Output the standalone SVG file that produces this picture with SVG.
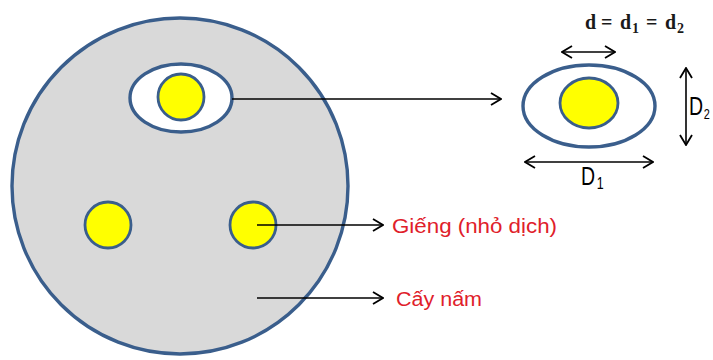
<svg xmlns="http://www.w3.org/2000/svg" width="713" height="360" viewBox="0 0 713 360">
  <style>
    .dish { fill: #D9D9D9; stroke: #3A5E8C; stroke-width: 3.4; }
    .ring { fill: #FFFFFF; stroke: #3A5E8C; stroke-width: 3.4; }
    .well { fill: #FFFF00; stroke: #3A5E8C; stroke-width: 2.8; }
    .line { fill: none; stroke: #000000; stroke-width: 1.6; }
    .lbl { font-family: "Liberation Sans", Arial, sans-serif; font-size: 20px; fill: #E0202A; }
    .dim { font-family: "Liberation Sans", Arial, sans-serif; font-size: 25px; fill: #000000; }
    .eq { font-family: "Liberation Serif", "Times New Roman", serif; font-weight: bold; font-size: 20px; fill: #1A1A1A; }
    .eqsub { font-size: 14px; }
  </style>
  <defs>
    <marker id="head" viewBox="0 0 12 14" refX="11" refY="7" markerWidth="12" markerHeight="14" markerUnits="userSpaceOnUse" orient="auto-start-reverse">
      <path d="M1,1 L11,7 L1,13" fill="none" stroke="#000000" stroke-width="1.8"/>
    </marker>
  </defs>

  <!-- Petri dish -->
  <g id="dish">
    <circle class="dish" cx="180" cy="186" r="168"/>
  </g>

  <!-- Top well with its halo -->
  <g id="well-top">
    <ellipse class="ring" cx="181" cy="98" rx="51" ry="34"/>
    <circle class="well" cx="181" cy="97" r="23"/>
  </g>

  <g id="well-left">
    <circle class="well" cx="108" cy="225" r="23"/>
  </g>

  <g id="well-right">
    <circle class="well" cx="253" cy="225" r="23"/>
  </g>

  <!-- Enlarged well with dimensions -->
  <g id="detail">
    <ellipse class="ring" cx="589" cy="106" rx="66" ry="41"/>
    <ellipse class="well" cx="589" cy="103" rx="29" ry="25"/>
  </g>

  <g id="connectors">
    <line class="line" x1="232" y1="99" x2="501" y2="99" marker-end="url(#head)"/>
    <line class="line" x1="257" y1="225" x2="383" y2="225" marker-end="url(#head)"/>
    <line class="line" x1="257" y1="298" x2="383" y2="298" marker-end="url(#head)"/>
    <!-- dimension arrows -->
    <line class="line" x1="562" y1="52" x2="615" y2="52" marker-start="url(#head)" marker-end="url(#head)"/>
    <line class="line" x1="686" y1="68" x2="686" y2="145" marker-start="url(#head)" marker-end="url(#head)"/>
    <line class="line" x1="525" y1="162" x2="653" y2="162" marker-start="url(#head)" marker-end="url(#head)"/>
  </g>

  <g id="labels">
    <text class="lbl" x="392" y="233" textLength="165" lengthAdjust="spacingAndGlyphs">Giếng (nhỏ dịch)</text>
    <text class="lbl" x="396" y="306" textLength="86" lengthAdjust="spacingAndGlyphs">Cấy nấm</text>

    <!-- condensed dimension labels -->
    <text class="dim" transform="translate(581,185) scale(0.78,1)">D<tspan font-size="16" dx="2" dy="4">1</tspan></text>
    <text class="dim" transform="translate(689,115) scale(0.78,1)">D<tspan font-size="14" dx="1" dy="4">2</tspan></text>

    <text class="eq" y="29"><tspan x="585">d</tspan><tspan x="601">=</tspan><tspan x="620">d</tspan><tspan class="eqsub" x="632" dy="4">1</tspan><tspan x="646" dy="-4">=</tspan><tspan x="665">d</tspan><tspan class="eqsub" x="677" dy="4">2</tspan></text>
  </g>
</svg>
